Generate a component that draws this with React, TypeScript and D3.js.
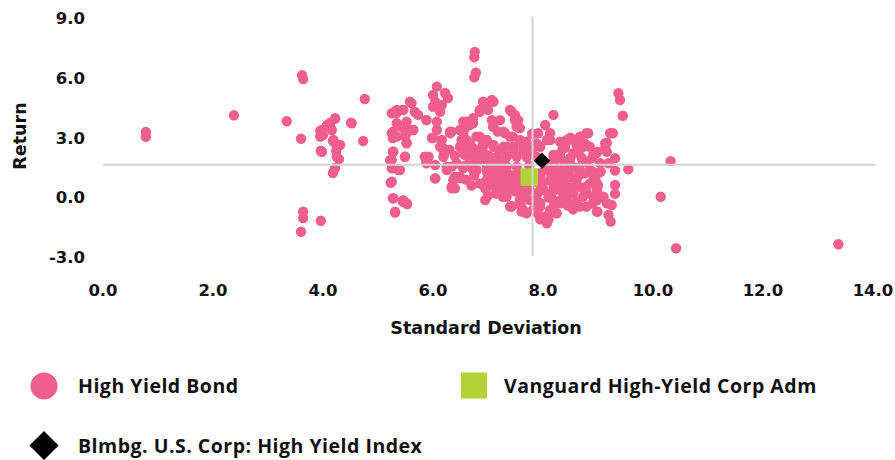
import React from "react";
import * as d3 from "d3";

const xTicks = [0, 2, 4, 6, 8, 10, 12, 14];
const yTicks = [-3, 0, 3, 6, 9];

const legendLabels = ["High Yield Bond", "Vanguard High-Yield Corp Adm", "Blmbg. U.S. Corp: High Yield Index"];

// [standard deviation, return]
const highYieldBond: [number, number][] = [
  [0.78, 3.3], [0.78, 3.05], [2.38, 4.13], [3.34, 3.83], [3.62, 6.15], [3.64, 5.95], [3.6, 2.95],
  [3.64, -0.71], [3.64, -1.03], [3.6, -1.72], [3.96, -1.17],
  [4.76, 4.95], [4.22, 3.95], [4.13, 3.74], [4.07, 3.64], [3.95, 3.34], [4.0, 3.14], [4.16, 3.39],
  [4.51, 3.76], [4.73, 2.84], [3.96, 2.35], [4.18, 2.84], [4.25, 2.55], [4.24, 2.34], [4.29, 1.93],
  [4.22, 1.48], [4.18, 1.23], [3.98, 3.39], [3.95, 3.06], [4.13, 3.56], [4.22, 3.98], [3.98, 2.3],
  [4.19, 2.89], [4.31, 2.64], [4.25, 2.05], [4.52, 3.73],
  [6.07, 5.57], [6.0, 5.15], [6.22, 5.25], [6.27, 5.0], [6.04, 4.81], [6.16, 4.65], [6.13, 4.31],
  [5.61, 4.74], [5.45, 4.4], [5.34, 4.25], [5.67, 4.31], [5.73, 4.15], [5.37, 3.64], [5.45, 3.49],
  [5.52, 3.81], [5.58, 3.39], [5.64, 3.39], [5.27, 3.31], [5.27, 2.99], [5.49, 3.06], [5.52, 2.74],
  [5.88, 3.89], [6.07, 3.81], [6.07, 3.39], [6.0, 2.99], [6.16, 2.89], [6.31, 3.31], [6.18, 2.49],
  [6.49, 3.39], [6.58, 3.64], [6.52, 2.55], [6.58, 2.14], [5.27, 2.3], [5.22, 1.88], [5.25, 1.47],
  [5.37, 1.38], [5.49, 2.05], [5.23, 0.74], [5.27, -0.04], [5.45, -0.21], [5.53, -0.33], [5.31, -0.76],
  [5.92, 2.05], [5.88, 1.8], [6.04, 1.63], [6.04, 0.96], [6.25, 1.38], [6.34, 1.55], [6.4, 1.05],
  [6.34, 0.54], [6.49, 1.05], [6.55, 1.55], [6.61, 2.39], [6.52, 2.89],
  [6.76, 7.32], [6.75, 7.04], [6.78, 6.27], [6.75, 6.04],
  [6.91, 4.81], [7.07, 4.9], [7.0, 4.4], [6.85, 4.31], [6.73, 3.99], [6.55, 3.81], [6.67, 3.64],
  [7.4, 4.4], [7.49, 4.15], [7.55, 3.89], [7.58, 3.49], [7.22, 3.89], [7.09, 3.56], [7.18, 3.31],
  [7.31, 3.23], [7.45, 3.06], [6.98, 2.89], [6.85, 3.06], [6.61, 2.89], [6.49, 2.55], [6.73, 2.47],
  [6.91, 2.55], [7.1, 2.55], [7.28, 2.55], [7.46, 2.55], [7.64, 2.55], [6.61, 2.14], [6.79, 2.05],
  [6.98, 2.14], [7.16, 2.05], [7.34, 2.05], [7.52, 2.05], [7.7, 2.05], [6.43, 1.72], [6.61, 1.63],
  [6.79, 1.38], [6.98, 1.55], [7.16, 1.55], [7.34, 1.55], [7.52, 1.55], [6.49, 0.96], [6.34, 0.46],
  [6.73, 1.38], [6.95, 0.46], [6.95, -0.13], [7.16, 0.54], [7.28, 0.88], [7.34, 0.21], [7.4, -0.46],
  [7.58, -0.13], [7.61, -0.71], [7.46, 0.54], [7.52, 1.05], [7.7, 0.38], [7.76, -0.13], [7.82, -0.63],
  [8.07, -1.3], [8.1, -0.88], [8.25, -0.79], [7.95, -0.29], [8.19, -0.13], [7.95, 0.38], [8.19, 0.54],
  [8.31, 1.05], [7.95, 1.05], [8.07, 1.38], [8.19, 1.88], [8.31, 2.22], [8.13, 2.89], [8.04, 3.64],
  [8.19, 4.15], [7.91, 3.23], [7.95, 2.55], [8.43, 2.89], [8.61, 2.89], [8.79, 3.23], [8.73, 2.55],
  [8.55, 2.22], [8.49, 1.72], [8.67, 1.38], [8.43, 1.22], [8.61, 0.88], [8.79, 0.54], [8.92, 1.05],
  [8.92, 2.22], [8.97, -0.13], [8.79, -0.46], [8.55, 0.21], [8.43, 0.54], [8.31, -0.13], [7.27, 0.04],
  [7.43, -0.46], [6.31, 3.23],
  [5.25, 4.23], [5.34, 4.4], [5.46, 4.4], [5.58, 4.81], [5.34, 3.73], [5.25, 3.23], [5.34, 3.06],
  [5.52, 3.23], [5.64, 3.39], [5.52, 2.72], [5.28, 2.3], [5.25, 1.88], [5.4, 1.38], [5.25, 0.79],
  [5.49, 2.05], [5.28, -0.04], [5.46, -0.13], [5.52, -0.29], [5.31, -0.71], [5.88, 3.89], [6.0, 4.56],
  [5.98, 2.99], [5.85, 2.05], [5.88, 1.72], [6.04, 0.96], [6.13, 2.55], [6.19, 2.05], [6.25, 1.55],
  [6.37, 0.88], [6.4, 0.46], [6.34, 3.31], [6.58, 3.48],
  [9.37, 5.24], [9.4, 4.9], [9.45, 4.11], [9.27, 3.23], [9.16, 2.75], [9.13, 2.47], [8.99, 2.3],
  [9.31, 1.97], [9.19, 1.72], [9.31, 1.35], [9.55, 1.42], [9.0, 1.22], [8.98, 0.71], [9.31, 0.63],
  [9.31, 0.18], [9.1, 0.04], [8.98, -0.13], [9.25, -0.38], [9.19, -0.88], [9.23, -1.21], [8.99, -0.71],
  [10.32, 1.83], [10.14, 0.04], [10.42, -2.55], [13.37, -2.35],
  [8.13, 3.23], [8.07, 2.89], [8.31, 2.8], [8.46, 2.89], [8.67, 3.06], [8.82, 3.23], [8.76, 2.72],
  [8.61, 2.64], [8.36, 2.47], [8.19, 2.14], [8.85, 2.55], [8.97, 2.22], [9.13, 2.72], [9.16, 2.3],
  [9.04, 1.72], [8.73, 1.8], [8.85, 1.38], [8.49, 1.38], [8.37, 1.05], [8.95, 0.88], [8.98, 0.38],
  [9.07, 0.04], [8.92, 0.04], [8.73, 0.04], [8.67, -0.46], [8.98, -0.71], [9.16, -0.29], [8.49, 0.21],
  [8.43, -0.13], [8.31, -0.29], [8.13, -0.63], [8.04, -0.96], [7.95, -0.46], [8.22, 0.38], [8.01, 0.38],
  [8.13, 0.88], [7.95, 1.22], [8.31, 1.38], [8.37, 1.88], [8.46, 1.63], [8.22, 1.55], [7.88, 2.05],
  [7.88, 2.72], [9.22, 3.23],
  [6.98, 4.73], [7.1, 4.81], [6.85, 4.4], [7.07, 3.89], [7.1, 3.56], [7.43, 4.31], [7.49, 3.89],
  [7.52, 3.56], [7.28, 3.31], [7.4, 3.06], [7.58, 2.89], [6.61, 3.81], [6.73, 3.73], [6.55, 3.23],
  [6.79, 3.06], [6.91, 2.89], [6.67, 2.72], [6.55, 2.39], [6.85, 2.3], [7.1, 2.64], [7.22, 2.39],
  [7.34, 2.55], [7.46, 2.3], [7.64, 2.39], [7.7, 2.05], [7.04, 2.05], [6.73, 1.88], [6.55, 1.47],
  [6.79, 1.38], [6.98, 1.3], [7.16, 1.72], [7.28, 1.38], [7.4, 1.13], [7.52, 0.88], [6.98, 0.88],
  [7.1, 0.96], [6.95, 0.46], [7.22, 0.38], [7.34, 0.04], [7.43, -0.43], [7.58, -0.13], [7.64, -0.63],
  [7.7, -0.79], [7.64, 0.38], [7.4, 0.54], [7.76, 0.38], [7.88, -0.13],
  [7.6, 1.0], [7.7, 0.6], [7.8, 1.2], [7.85, 0.8], [7.9, 0.2], [8.0, 0.7], [8.05, 1.7], [7.75, 1.6],
  [7.65, 0.1], [8.1, 0.0], [7.85, -0.3], [7.5, 0.3], [7.55, 1.3], [8.15, 1.2], [7.95, 1.9], [8.2, -0.4],
  [7.8, 2.4], [7.7, 2.8], [7.8, 3.2], [7.3, 1.9], [7.0, 1.7], [6.85, 1.9], [7.2, 1.1], [7.05, 0.6],
  [7.3, 0.7], [7.45, 0.8], [6.65, 2.3], [6.9, 2.6], [6.4, 2.1], [6.3, 2.4], [6.2, 2.2],
  [8.4, 0.9], [8.55, 0.5], [8.65, 1.1], [8.7, 2.0], [8.4, 2.5], [8.5, 3.0], [8.8, 1.8], [8.9, 1.3],
  [8.6, -0.2], [8.8, 0.2], [8.35, 0.3],
  [8.25, 1.0], [8.35, 0.7], [8.5, 1.0], [8.6, 1.5], [8.75, 1.2], [8.85, 0.7], [8.7, 0.5], [8.45, -0.4],
  [8.55, -0.6], [8.9, -0.3], [8.15, 0.2], [8.3, 0.6], [8.1, 1.6], [8.25, 2.0], [8.5, 2.0], [8.65, 2.3],
  [8.9, 2.0], [9.05, 1.3], [9.0, 0.6], [7.2, 0.8], [7.1, 1.3], [7.3, 1.2], [7.0, 1.0], [6.85, 0.7],
  [7.15, 0.2], [7.0, 0.1], [7.55, 0.6], [7.6, -0.4], [7.9, -0.8], [7.95, -1.1], [8.1, -1.1], [6.75, 1.1],
  [6.6, 0.9], [6.7, 0.6],
];

const vanguard: [number, number] = [7.75, 1.03];
const index: [number, number] = [7.98, 1.85];
const crosshair: [number, number] = [7.81, 1.65];

const PINK = "#F05E8D";
const GREEN = "#B3D335";
const GRID = "#D3D3D3";
const AXIS_FONT = "'DejaVu Sans', sans-serif";
const LEGEND_FONT = "'Open Sans', sans-serif";

export default function App() {
  const width = 895;
  const height = 460;
  const x = d3.scaleLinear().domain([0, 14]).range([103, 873]);
  const y = d3.scaleLinear().domain([-3, 9]).range([257.2, 18.4]);
  const fmt = (v: number) => d3.format(".1f")(v).replace("\u2212", "-");
  const diamond = d3.symbol().type(d3.symbolDiamond2);
  const legendStyle = { fontFamily: LEGEND_FONT, fontWeight: 700, fontSize: 19.5, letterSpacing: 0.5 } as const;

  return (
    <svg width={width} height={height} style={{ position: "absolute", left: 0, top: 0, background: "#fff" }}>
      {highYieldBond.map((d, i) => (
        <circle key={i} cx={x(d[0])} cy={y(d[1])} r={5.2} fill={PINK} />
      ))}
      <rect x={x(vanguard[0]) - 8.8} y={y(vanguard[1]) - 8.8} width={17.6} height={17.6} fill={GREEN} />
      <line x1={x(0)} x2={x(14) + 3} y1={y(crosshair[1])} y2={y(crosshair[1])} stroke={GRID} strokeWidth={2} />
      <line x1={x(crosshair[0])} x2={x(crosshair[0])} y1={y(9) - 2} y2={y(-3) - 1} stroke={GRID} strokeWidth={2} />
      <path d={diamond.size(170)() as string} transform={`translate(${x(index[0])},${y(index[1])})`} fill="#000" />

      {yTicks.map((t) => (
        <text key={t} x={85} y={y(t)} dy="0.36em" textAnchor="end" fontFamily={AXIS_FONT} fontWeight="bold" fontSize={16.5} fill="#111">
          {fmt(t)}
        </text>
      ))}
      {xTicks.map((t) => (
        <text key={t} x={x(t)} y={296} textAnchor="middle" fontFamily={AXIS_FONT} fontWeight="bold" fontSize={16.5} fill="#111">
          {fmt(t)}
        </text>
      ))}
      <text transform="translate(26,136) rotate(-90)" textAnchor="middle" fontFamily={AXIS_FONT} fontWeight="bold" fontSize={17.5} fill="#111">
        Return
      </text>
      <text x={486} y={334} textAnchor="middle" fontFamily={AXIS_FONT} fontWeight="bold" fontSize={17.5} fill="#111">
        Standard Deviation
      </text>

      <circle cx={44} cy={386} r={13.5} fill={PINK} />
      <text x={78} y={393} style={legendStyle} fill="#111">{legendLabels[0]}</text>
      <rect x={461} y={372.5} width={26} height={26} fill={GREEN} />
      <text x={504} y={393} style={legendStyle} fill="#111">{legendLabels[1]}</text>
      <path d={diamond.size(540)() as string} transform="translate(44,445.5)" fill="#000" />
      <text x={78} y={452.5} style={legendStyle} fill="#111">{legendLabels[2]}</text>
    </svg>
  );
}
